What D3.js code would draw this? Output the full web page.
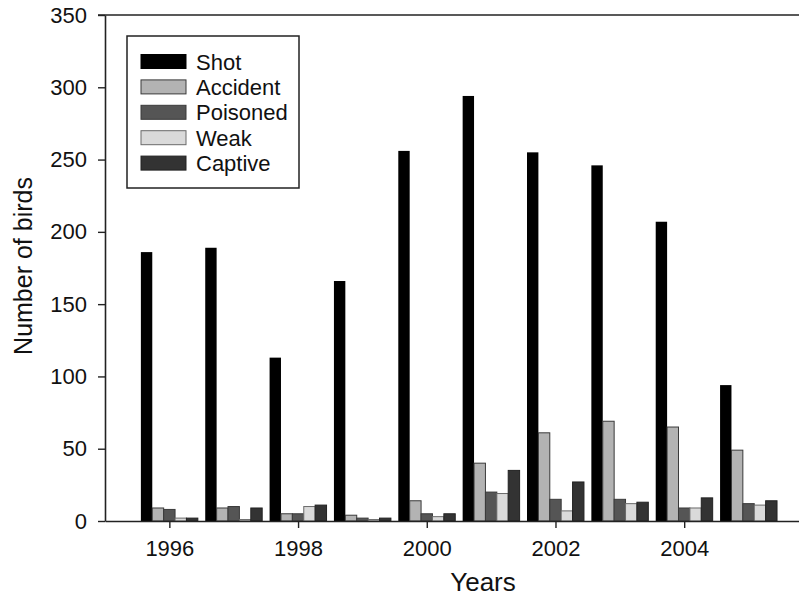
<!DOCTYPE html>
<html><head><meta charset="utf-8">
<script src="https://cdn.jsdelivr.net/npm/d3@7"></script>
<style>body{margin:0;background:#fff}svg{display:block}text{font-family:"Liberation Sans",Arial,sans-serif;fill:#111}</style>
</head><body><svg id="c" width="799" height="598"></svg>
<script>
const years = [1996,1997,1998,1999,2000,2001,2002,2003,2004,2005];
const seriesNames = ["Shot","Accident","Poisoned","Weak","Captive"];
const shot     = [186,189,113,166,256,294,255,246,207,94];
const accident = [9,9,5,4,14,40,61,69,65,49];
const poisoned = [8,10,5,2,5,20,15,15,9,12];
const weak     = [2,1,10,1,3,19,7,12,9,11];
const captive  = [2,9,11,2,5,35,27,13,16,14];
const yTicks = [0,50,100,150,200,250,300,350];
const xTicks = [1996,1998,2000,2002,2004];
const fills   = ["#000000","#b3b3b3","#555555","#dadada","#333333"];
const strokes = ["#000000","#3a3a3a","#3a3a3a","#6a6a6a","#222222"];
const seriesValues = [shot,accident,poisoned,weak,captive];

const svg = d3.select("#c");
const x = d3.scaleLinear().domain([1995,2006]).range([105,812.9]);
const y = d3.scaleLinear().domain([0,350]).range([521,15]);
const barW = (x(1996)-x(1995))*0.177;

// bars
seriesNames.forEach((name,si)=>{
  svg.append("g").selectAll("rect").data(years.map((yr,i)=>({yr,v:seriesValues[si][i]})))
    .join("rect")
    .attr("x",d=>x(d.yr)-2.5*barW+si*barW)
    .attr("y",d=>y(d.v))
    .attr("width",barW)
    .attr("height",d=>y(0)-y(d.v))
    .attr("fill",fills[si])
    .attr("stroke",strokes[si])
    .attr("stroke-width",si===0?0:1);
});

// top frame
svg.append("line").attr("x1",98).attr("x2",799).attr("y1",y(350)).attr("y2",y(350))
  .attr("stroke","#222").attr("stroke-width",1.6);

// y axis
const ya = svg.append("g").attr("transform","translate(105,0)")
  .call(d3.axisLeft(y).tickValues(yTicks).tickSize(7).tickPadding(11).tickSizeOuter(0));
ya.select(".domain").attr("stroke","#222").attr("stroke-width",1.6);
ya.selectAll(".tick line").attr("stroke","#222").attr("stroke-width",1.4);
ya.selectAll("text").attr("font-size",22).attr("font-family","Liberation Sans, Arial, sans-serif").attr("fill","#111");

// x axis
const xa = svg.append("g").attr("transform","translate(0,521)")
  .call(d3.axisBottom(x).tickValues(xTicks).tickFormat(d3.format("d")).tickSize(7).tickSizeOuter(0));
xa.select(".domain").attr("stroke","#222").attr("stroke-width",1.6);
xa.selectAll(".tick line").attr("stroke","#222").attr("stroke-width",1.4);
xa.selectAll("text").attr("font-size",22).attr("y",35).attr("dy",0)
  .attr("font-family","Liberation Sans, Arial, sans-serif").attr("fill","#111");

// axis titles
svg.append("text").attr("x",483).attr("y",591).attr("text-anchor","middle")
  .attr("font-size",26).text("Years");
svg.append("text").attr("transform","translate(32,266) rotate(-90)").attr("text-anchor","middle")
  .attr("font-size",25).text("Number of birds");

// legend
const lg = svg.append("g");
lg.append("rect").attr("x",127).attr("y",36).attr("width",172).attr("height",152)
  .attr("fill","#fff").attr("stroke","#222").attr("stroke-width",1.5);
seriesNames.forEach((name,i)=>{
  const cy = 61.5 + i*25.4;
  lg.append("rect").attr("x",141).attr("y",cy-7).attr("width",45).attr("height",14)
    .attr("fill",fills[i]).attr("stroke",strokes[i]).attr("stroke-width",1);
  lg.append("text").attr("x",196).attr("y",cy+8).attr("font-size",22).text(name);
});
</script></body></html>
